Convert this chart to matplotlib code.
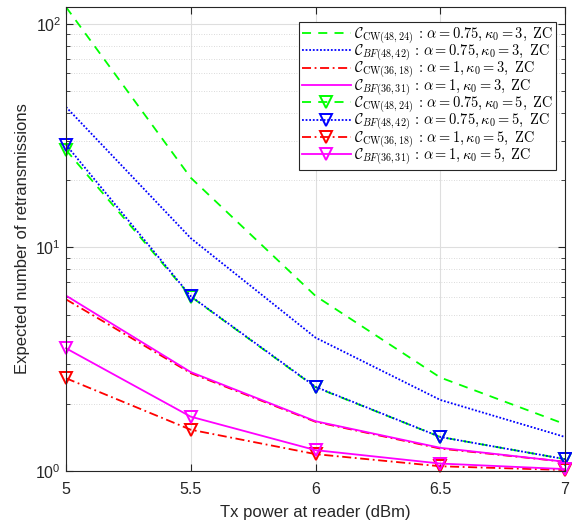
import numpy as np
import matplotlib
matplotlib.use('Agg')
import matplotlib.pyplot as plt
from matplotlib.ticker import LogLocator, NullFormatter

plt.rcParams['font.family'] = ['Liberation Sans', 'DejaVu Sans']
plt.rcParams['mathtext.fontset'] = 'cm'

# Tx power sweep (dBm)
tx_power = [5, 5.5, 6, 6.5, 7]

# kappa0 = 3
cw4824_k3 = [119, 20.5, 6.07, 2.62, 1.62]
bf4842_k3 = [42.5, 11.0, 3.95, 2.08, 1.42]
cw3618_k3 = [5.86, 2.74, 1.66, 1.26, 1.10]
bf3631_k3 = [6.09, 2.77, 1.67, 1.27, 1.10]

# kappa0 = 5
cw4824_k5 = [27.3, 6.03, 2.37, 1.42, 1.13]
bf4842_k5 = [28.8, 6.05, 2.38, 1.42, 1.13]
cw3618_k5 = [2.60, 1.53, 1.19, 1.05, 1.01]
bf3631_k5 = [3.54, 1.75, 1.24, 1.08, 1.02]

labels = [
    r'$\mathcal{C}_{\mathrm{CW}(48,24)}\,:\,\alpha=0.75, \kappa_0=3,\ \mathrm{ZC}$',
    r'$\mathcal{C}_{BF(48,42)}\,:\,\alpha=0.75, \kappa_0=3,\ \mathrm{ZC}$',
    r'$\mathcal{C}_{\mathrm{CW}(36,18)}\,:\,\alpha=1, \kappa_0=3,\ \mathrm{ZC}$',
    r'$\mathcal{C}_{BF(36,31)}\,:\,\alpha=1, \kappa_0=3,\ \mathrm{ZC}$',
    r'$\mathcal{C}_{\mathrm{CW}(48,24)}\,:\,\alpha=0.75, \kappa_0=5,\ \mathrm{ZC}$',
    r'$\mathcal{C}_{BF(48,42)}\,:\,\alpha=0.75, \kappa_0=5,\ \mathrm{ZC}$',
    r'$\mathcal{C}_{\mathrm{CW}(36,18)}\,:\,\alpha=1, \kappa_0=5,\ \mathrm{ZC}$',
    r'$\mathcal{C}_{BF(36,31)}\,:\,\alpha=1, \kappa_0=5,\ \mathrm{ZC}$',
]

green = '#00ff00'
blue = '#0000ff'
red = '#ff0000'
magenta = '#ff00ff'

fig = plt.figure(figsize=(5.72, 5.23), dpi=100)
ax = fig.add_axes([0.1154, 0.0994, 0.8724, 0.8872])

lw = 1.3
ax.plot(tx_power, cw4824_k3, color=green, ls=(0, (5, 4)), lw=lw, label=labels[0])
ax.plot(tx_power, bf4842_k3, color=blue, ls=(0, (1, 1)), lw=lw, label=labels[1])
ax.plot(tx_power, cw3618_k3, color=red, ls=(0, (5, 2, 1, 2)), lw=lw, label=labels[2])
ax.plot(tx_power, bf3631_k3, color=magenta, ls='-', lw=lw, label=labels[3])

mk = dict(marker='v', ms=9, mfc='none', mew=1.4, clip_on=False)
ax.plot(tx_power, cw4824_k5, color=green, ls=(0, (5, 4)), lw=lw, label=labels[4], **mk)
ax.plot(tx_power, bf4842_k5, color=blue, ls=(0, (1, 1)), lw=lw, label=labels[5], **mk)
ax.plot(tx_power, cw3618_k5, color=red, ls=(0, (5, 2, 1, 2)), lw=lw, label=labels[6], **mk)
ax.plot(tx_power, bf3631_k5, color=magenta, ls='-', lw=lw, label=labels[7], **mk)

ax.set_yscale('log')
ax.set_xlim(5, 7)
ax.set_ylim(1, 119)
ax.set_xticks([5, 5.5, 6, 6.5, 7])
ax.set_xticklabels(['5', '5.5', '6', '6.5', '7'])
ax.yaxis.set_major_locator(LogLocator(base=10))
ax.yaxis.set_minor_locator(LogLocator(base=10, subs=np.arange(2, 10)))
ax.yaxis.set_minor_formatter(NullFormatter())

ax.grid(True, which='major', color='#dedede', lw=0.8, ls='-')
ax.grid(True, which='minor', axis='y', color='#cfcfcf', lw=0.6, ls=(0, (1, 2)))
ax.set_axisbelow(True)

ax.tick_params(which='both', direction='in', top=True, right=True, colors='#262626', labelsize=11.5)
ax.tick_params(which='major', length=5)
ax.tick_params(which='minor', length=3)
ax.tick_params(axis='x', pad=8)
for s in ax.spines.values():
    s.set_color('#262626')
    s.set_linewidth(0.8)

ax.set_xlabel('Tx power at reader (dBm)', fontsize=12, color='#262626', labelpad=6)
ax.set_ylabel('Expected number of retransmissions', fontsize=12, color='#262626')

leg = ax.legend(loc='upper right', bbox_to_anchor=(0.982, 0.968), fontsize=10.4,
                handlelength=3.4, handletextpad=0.2, borderpad=0.2, labelspacing=-0.25,
                fancybox=False, framealpha=1, edgecolor='#262626', borderaxespad=0)
leg.get_frame().set_linewidth(0.8)

fig.savefig('out.png', dpi=100)
